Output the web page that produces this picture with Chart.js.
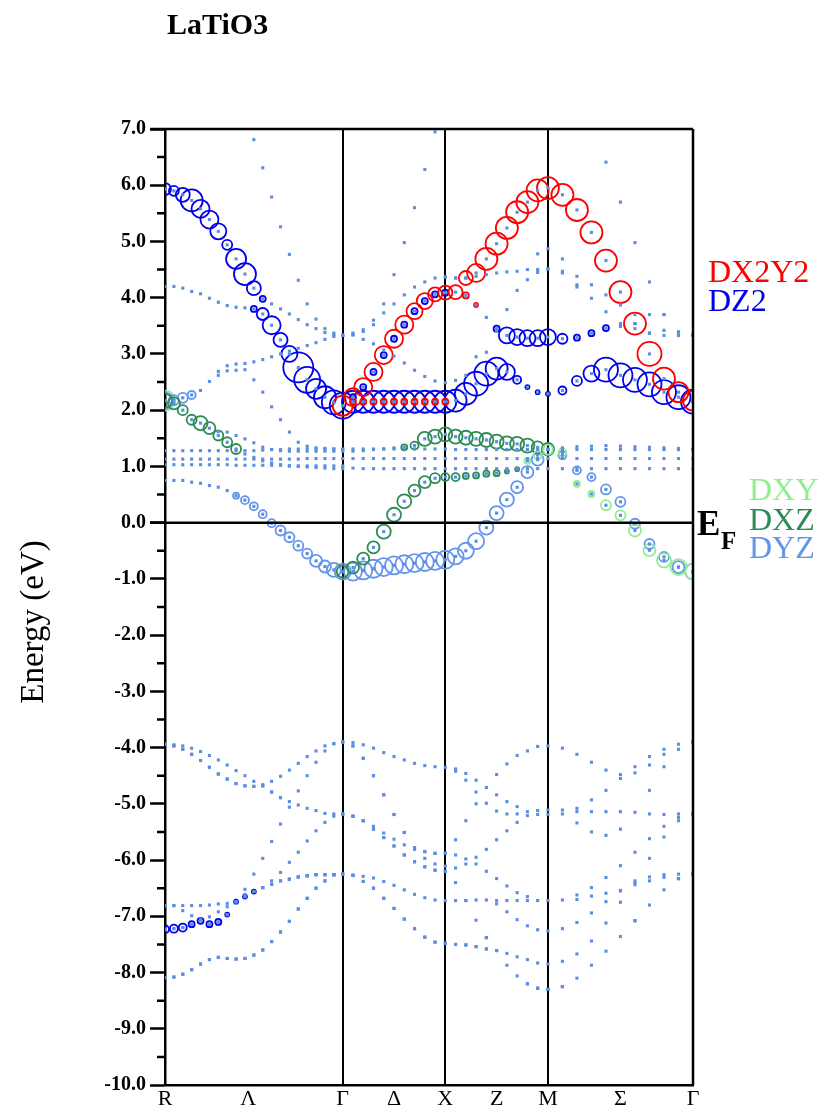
<!DOCTYPE html>
<html>
<head>
<meta charset="utf-8">
<script src="https://cdn.jsdelivr.net/npm/chart.js@4.4.0/dist/chart.umd.min.js"></script>
<style>body{margin:0;background:#fff}</style>
</head>
<body>
<canvas id="bands" width="819" height="1113"></canvas>
<script>
// k-path: R - Gamma - X - M - Gamma, points per segment
var kSegPts = [20, 10, 10, 10];
var kSegLen = [1.732, 1.0, 1.0, 1.414];
var kLabels = ['R', 'Λ', 'Γ', 'Δ', 'X', 'Z', 'M', 'Σ', 'Γ'];
var kLabelPos = [0, 0.81, 1.732, 2.232, 2.732, 3.232, 3.732, 4.439, 5.146];
var kLines = [1.732, 2.732, 3.732];

// O 2p bands (eV), 51 k-points
var o1 = [-3.94,-3.95,-3.97,-4.01,-4.07,-4.14,-4.22,-4.31,-4.41,-4.50,-4.60,-4.66,-4.60,-4.51,-4.40,-4.28,-4.16,-4.06,-3.97,-3.93,-3.90,-3.91,-3.95,-4.01,-4.09,-4.16,-4.22,-4.28,-4.32,-4.34,-4.35,-4.38,-4.46,-4.58,-4.71,-4.48,-4.29,-4.14,-4.06,-3.98,-3.97,-4.01,-4.12,-4.26,-4.40,-4.48,-4.34,-4.16,-4.03,-3.94,-3.90];
var o2 = [-3.94,-3.97,-4.03,-4.12,-4.23,-4.35,-4.47,-4.56,-4.64,-4.68,-4.69,-4.68,-4.79,-4.89,-4.96,-4.77,-4.50,-4.26,-4.06,-3.93,-3.90,-3.97,-4.19,-4.50,-4.84,-5.19,-5.51,-5.78,-5.85,-5.88,-5.88,-4.42,-4.58,-4.79,-4.99,-4.84,-4.96,-5.05,-5.14,-5.12,-5.11,-5.11,-5.08,-4.93,-4.76,-4.55,-4.45,-4.31,-4.12,-4.03,-3.90];
var o3 = [-3.94,-3.97,-4.03,-4.12,-4.23,-4.35,-4.47,-4.56,-4.64,-4.68,-4.69,-4.68,-4.79,-4.89,-5.06,-5.02,-5.08,-5.12,-5.17,-5.18,-3.90,-3.97,-4.19,-4.50,-4.84,-5.19,-5.51,-5.78,-5.85,-5.88,-5.88,-5.64,-5.30,-5.00,-5.81,-5.13,-5.18,-5.18,-5.21,-5.19,-5.19,-5.18,-5.14,-5.14,-5.14,-5.14,-5.15,-4.76,-4.34,-5.18,-3.90];
var o4 = [-6.81,-6.81,-6.81,-6.81,-6.81,-6.80,-6.78,-6.77,-6.74,-6.52,-6.25,-5.97,-5.67,-5.36,-6.04,-5.86,-5.66,-5.48,-5.33,-5.22,-5.18,-5.22,-5.30,-5.40,-5.52,-5.63,-5.73,-5.81,-5.97,-6.07,-6.11,-5.91,-5.98,-5.95,-6.20,-5.64,-5.48,-5.33,-6.65,-6.72,-6.72,-6.71,-5.34,-5.50,-5.56,-5.45,-5.86,-5.18,-5.19,-5.24,-5.18];
var o5 = [-6.81,-6.81,-6.90,-6.99,-7.05,-7.01,-6.92,-6.83,-6.74,-6.61,-6.56,-6.49,-6.37,-6.22,-6.34,-6.30,-6.28,-6.26,-6.26,-6.26,-5.18,-5.22,-5.30,-5.45,-5.60,-5.75,-5.91,-6.03,-6.12,-6.18,-6.20,-6.14,-6.07,-6.07,-6.71,-6.33,-6.46,-6.58,-6.72,-7.24,-7.26,-7.22,-6.62,-6.49,-6.31,-6.10,-6.37,-5.62,-5.40,-5.30,-5.18];
var o6 = [-6.81,-7.22,-7.20,-7.14,-7.08,-7.14,-7.10,-6.97,-6.74,-6.65,-6.56,-6.49,-6.43,-6.37,-6.34,-6.30,-6.28,-6.26,-6.26,-6.26,-5.18,-5.22,-5.30,-5.45,-5.60,-5.75,-5.91,-6.03,-6.12,-6.18,-6.20,-6.40,-6.72,-6.71,-7.38,-6.72,-6.72,-6.72,-7.17,-7.83,-7.85,-7.80,-6.70,-6.64,-6.59,-6.54,-6.40,-5.97,-5.59,-6.25,-5.18];
var o7 = [-7.23,-7.22,-7.20,-7.14,-7.08,-7.14,-7.10,-6.97,-6.74,-6.65,-6.56,-6.49,-6.43,-6.37,-6.34,-6.30,-6.28,-6.26,-6.26,-6.26,-6.25,-6.27,-6.29,-6.32,-6.38,-6.45,-6.53,-6.61,-6.67,-6.71,-6.72,-6.72,-6.72,-7.07,-7.38,-6.78,-6.92,-7.06,-7.77,-8.28,-8.30,-8.25,-7.11,-6.94,-6.74,-6.55,-6.44,-6.30,-6.26,-6.33,-6.25];
var o8 = [-7.23,-8.08,-8.03,-7.95,-7.85,-7.77,-7.73,-7.75,-7.76,-7.75,-7.69,-7.60,-7.45,-7.28,-7.09,-6.87,-6.68,-6.50,-6.37,-6.26,-6.25,-6.27,-6.38,-6.50,-6.68,-6.86,-7.05,-7.22,-7.37,-7.46,-7.48,-7.50,-7.51,-7.54,-7.58,-7.61,-7.66,-7.72,-8.20,-8.28,-8.30,-8.25,-7.67,-7.44,-7.12,-6.75,-7.08,-6.37,-6.31,-6.33,-6.25];
var o9 = [-8.09,-8.08,-8.03,-7.95,-7.85,-7.77,-7.73,-7.75,-7.76,-7.75,-7.69,-7.60,-7.45,-7.28,-7.09,-6.87,-6.68,-6.50,-6.37,-6.26,-6.25,-6.27,-6.38,-6.50,-6.68,-6.86,-7.05,-7.22,-7.37,-7.46,-7.48,-7.50,-7.51,-7.54,-7.58,-7.61,-7.87,-8.06,-8.20,-8.28,-8.30,-8.25,-8.10,-7.87,-7.62,-7.36,-7.08,-6.80,-6.53,-6.33,-6.25];

// Ti d / La d bands above the O 2p block
var n = null;
var egUp = [5.93,5.90,5.83,5.73,5.58,5.39,5.18,4.94,4.69,4.42,4.17,3.98,3.89,3.80,3.71,3.61,3.52,3.45,3.38,3.34,3.33,3.37,3.43,3.52,3.73,3.89,4.05,4.19,4.28,4.35,4.37,4.35,4.35,4.44,4.69,4.96,5.24,5.52,5.70,5.91,5.95,5.83,5.56,5.16,4.66,4.10,3.54,3.00,2.56,2.32,2.17];
var egLow = [4.20,4.20,4.17,4.11,4.07,3.99,3.92,3.86,3.83,3.82,3.80,3.71,3.51,3.25,3.00,2.76,2.54,2.38,2.23,2.14,2.08,2.15,2.15,2.15,2.15,2.15,2.15,2.15,2.15,2.15,2.15,2.17,2.29,2.47,2.65,2.74,2.68,2.54,2.41,2.32,2.29,2.35,2.52,2.65,2.72,2.62,2.54,2.46,2.32,2.23,2.15];
var egMid = [n,n,n,n,n,n,n,n,n,n,n,n,n,n,n,n,n,n,n,n,2.08,2.23,2.41,2.68,2.98,3.27,3.52,3.76,3.94,4.06,4.09,4.10,4.04,3.87,3.65,3.45,3.33,3.30,3.28,3.28,3.30,3.27,3.29,3.37,3.46,3.49,3.45,3.37,3.33,3.33,3.33];
var steep = [n,n,n,n,n,n,n,n,n,n,6.81,6.31,5.79,5.26,4.77,4.31,3.89,3.62,3.45,3.37,3.33,3.34,3.40,3.60,3.89,4.41,4.98,5.60,6.28,6.95,n,n,n,n,n,n,n,n,n,n,n,n,n,n,6.41,5.70,4.98,4.28,3.70,3.39,3.33];
var bandD = [n,n,n,n,n,n,n,n,n,n,n,n,n,n,n,n,n,n,n,n,3.33,3.34,3.26,3.18,3.07,2.96,2.84,2.71,2.60,2.52,2.49,2.53,2.62,2.95,3.03,3.40,3.79,4.13,4.32,4.45,4.51,4.44,4.19,n,n,n,n,n,n,n,n];
var bandXM = [n,n,n,n,n,n,n,n,n,n,n,n,n,n,n,n,n,n,n,n,n,n,n,n,n,n,n,n,n,n,4.37,4.35,4.35,4.38,4.41,4.44,4.46,4.47,4.50,4.50,4.51,4.47,4.23,3.99,3.75,3.54,3.54,3.37,3.42,3.33,3.33];
var bandMG = [n,n,n,n,n,n,n,n,n,n,n,n,n,n,n,n,n,n,n,n,n,n,n,n,n,n,n,n,n,n,n,n,n,n,n,n,n,n,n,4.78,4.87,4.69,4.38,4.23,4.05,3.87,3.70,3.70,3.70,3.39,3.33];
var laRise = [2.17,2.18,2.22,2.27,2.35,2.51,2.69,2.79,2.82,2.83,2.86,2.90,2.95,3.00,3.05,3.10,3.15,3.20,3.26,3.31,3.33,n,n,n,n,n,n,n,n,n,n,n,n,n,n,n,n,n,n,n,n,n,n,n,n,n,n,n,n,n,n];
var laFall = [n,n,n,n,n,n,2.62,2.70,2.71,2.72,2.54,2.32,2.06,1.83,1.61,1.43,1.36,1.33,1.32,1.31,1.30,n,n,n,n,n,n,n,n,n,n,n,n,n,n,n,n,n,n,n,n,n,n,n,n,n,n,n,n,n,n];
// t2g bands
var t2gA = [2.17,2.12,2.00,1.83,1.77,1.68,1.55,1.43,1.31,1.22,1.16,1.10,1.06,1.03,1.01,1.00,0.99,0.98,0.97,0.96,0.96,n,n,n,n,n,n,n,n,n,n,n,n,n,n,n,n,n,n,n,n,n,n,n,n,n,n,n,n,n,n];
var t2gB = [0.75,0.75,0.75,0.72,0.70,0.66,0.63,0.57,0.48,0.40,0.29,0.15,-0.01,-0.14,-0.26,-0.41,-0.55,-0.68,-0.78,-0.84,-0.87,-0.87,-0.85,-0.82,-0.79,-0.76,-0.74,-0.72,-0.70,-0.68,-0.66,-0.60,-0.50,-0.33,-0.09,0.17,0.41,0.63,0.90,1.12,1.30,1.20,0.93,0.81,0.59,0.37,-0.02,-0.38,-0.61,-0.79,-0.87];
var t2gC = [n,n,n,n,n,n,1.62,1.61,1.55,1.49,1.42,1.34,1.30,1.28,1.27,1.27,1.27,1.27,1.27,1.27,-0.87,-0.80,-0.64,-0.44,-0.16,0.14,0.38,0.57,0.72,0.79,0.81,0.81,0.83,0.84,0.87,0.88,0.91,0.95,1.10,1.20,1.30,1.25,0.69,0.51,0.31,0.13,-0.14,-0.49,-0.67,-0.79,-0.87];
var t2gD = [n,n,n,n,n,n,n,n,n,n,n,n,n,n,n,n,n,n,n,n,1.27,1.27,1.28,1.30,1.31,1.33,1.34,1.37,1.49,1.53,1.57,1.53,1.51,1.49,1.47,1.44,1.41,1.40,1.37,1.34,1.31,1.33,1.35,1.36,1.37,1.36,1.35,1.34,1.33,1.32,1.30];
// La 4f flat rows
var f1 = [1.28,1.28,1.28,1.28,1.28,1.28,1.28,1.28,1.28,1.28,1.28,1.29,1.30,1.30,1.31,1.31,1.31,1.31,1.31,1.31,1.31,1.31,1.31,1.31,1.31,1.31,1.31,1.31,1.31,1.31,1.31,1.30,1.30,1.30,1.30,1.30,1.30,1.30,1.30,1.30,1.30,1.30,1.30,1.30,1.30,1.30,1.30,1.30,1.30,1.30,1.30];
var f2 = [1.13,1.13,1.13,1.13,1.13,1.13,1.13,1.13,1.13,1.13,1.13,1.13,1.13,1.13,1.13,1.13,1.14,1.14,1.14,1.14,1.14,1.14,1.14,1.14,1.14,1.14,1.14,1.14,1.14,1.14,1.14,1.14,1.14,1.14,1.14,1.14,1.14,1.14,1.14,1.14,1.14,1.14,1.14,1.14,1.14,1.14,1.14,1.14,1.14,1.14,1.14];
var f3 = [1.03,1.03,1.03,1.03,1.03,1.03,1.03,1.03,1.02,1.02,1.02,1.02,1.02,1.02,1.01,1.01,1.01,1.01,1.01,1.01,1.01,0.97,0.96,0.96,0.96,0.96,0.96,0.96,0.96,0.96,0.96,0.96,0.96,0.96,0.96,0.96,0.96,0.96,0.96,0.96,0.96,0.96,0.96,0.96,0.96,0.96,0.96,0.96,0.96,0.96,0.96];

// orbital weights drawn as circle radius (px), 0 = none
var dz2UpW  = [6,5,7,11,9,9,8,5,10,11,7,3,0,0,0,0,0,0,0,0,0];
var dz2LowW = [0,0,0,0,0,0,0,0,0,0,3,6,9,7,8,15,13,10,11,12,13,11,11,11,11,11,11,11,11,11,11,11,11,12,12,11,8,4,2,2,2,4,5,8,12,12,12,12,12,12,12];
var dz2MidW = [0,0,0,0,0,0,0,0,0,0,0,0,0,0,0,0,0,0,0,0,0,3,3,3,3,3,3,3,3,3,3,0,0,0,0,3,8,8,8,8,8,5,3,3,3,0,0,0,0,0,0];
var dz2DeepW = [4,4,4,3,3,3,3,2,2,2,2];
var dx2UpW  = [0,0,0,0,0,0,0,0,0,0,0,0,0,0,0,0,0,0,0,0,0,0,0,0,0,0,0,0,0,0,0,0,7,9,11,11,11,11,11,11,11,11,11,11,11,11,11,12,11,10,10];
var dx2MidW = [0,0,0,0,0,0,0,0,0,0,0,0,0,0,0,0,0,0,0,0,10,9,9,9,9,9,9,8,8,7,7,7,3,2,0,0,0,0,0,0,0,0,0,0,0,0,0,0,0,0,0];
var dx2LowW = [0,0,0,0,0,0,0,0,0,0,0,0,0,0,0,0,0,0,0,0,0,3,3,3,3,3,3,3,3,3,3,0,0,0,0,0,0,0,0,0,0,0,0,0,0,0,0,0,0,0,0];
var dyzBW   = [0,0,0,0,0,0,0,0,3,4,4,4,4,5,5,5,5,6,6,7,8,9,9,9,9,9,9,9,9,9,9,8,8,8,7,7,7,6,6,6,6,4,4,4,5,5,5,5,5,6,8];
var dxzCW   = [0,0,0,0,0,0,0,0,0,0,0,0,0,0,0,0,0,0,0,0,6,6,6,6,7,7,7,6,6,5,4,4,3,3,3,3,2,2,0,0,0,0,0,0,0,0,0,0,0,0,0];
var dxzDW   = [0,0,0,0,0,0,0,0,0,0,0,0,0,0,0,0,0,0,0,0,0,0,0,0,0,0,3,4,7,7,7,7,7,7,7,7,7,7,7,6,6,0,0,0,0,0,0,0,0,0,0];
var dxyCW   = [0,0,0,0,0,0,0,0,0,0,0,0,0,0,0,0,0,0,0,0,0,0,0,0,0,0,0,0,0,0,0,0,0,0,0,0,0,0,3,4,5,4,3,3,5,5,6,6,7,8,8];
var dxzAW   = [7,6,5,5,7,6,5,5,5,0,0,0,0,0,0,0,0,0,0,0,0];
var dyzRiseW = [8,5,5,4,0];
var dxyRiseW = [10,0,0,0,0];

var dotBands = [o1,o2,o3,o4,o5,o6,o7,o8,o9,egUp,egLow,egMid,steep,bandD,bandXM,bandMG,laRise,laFall,t2gA,t2gB,t2gC,t2gD,f1,f2,f3];

// k distance of every point along the path
var kx = [0];
kSegPts.forEach(function (m, s) {
    var start = kx[kx.length - 1];
    for (var j = 1; j <= m; j++) kx.push(start + kSegLen[s] * j / m);
});

function fat(band, w) {
    var pts = [];
    w.forEach(function (r, i) {
        if (r > 0 && band[i] !== null) pts.push({x: kx[i], y: band[i], r: r});
    });
    return pts;
}
function circles(pts, color, order) {
    return {
        data: pts, order: order, clip: 0,
        pointRadius: function (c) { return c.raw ? c.raw.r : 0; },
        pointBackgroundColor: 'rgba(0,0,0,0)',
        pointBorderColor: color, pointBorderWidth: 1.8,
        showLine: false
    };
}

var dotPts = [];
dotBands.forEach(function (b) {
    b.forEach(function (e, i) { if (e !== null) dotPts.push({x: kx[i], y: e}); });
});

var colDX2 = '#ff0000', colDZ2 = '#0000ee', colDXY = '#90ee90', colDXZ = '#2e8b57', colDYZ = '#6495ed';
var egDeep = o7;

var extras = {
    id: 'extras',
    afterDraw: function (chart) {
        var c = chart.ctx, a = chart.chartArea, ys = chart.scales.y;
        c.save();
        c.strokeStyle = '#000';
        c.lineWidth = 2.5;
        c.beginPath();
        c.moveTo(a.left - 15, a.top); c.lineTo(a.right, a.top);
        c.moveTo(a.right, a.top); c.lineTo(a.right, a.bottom);
        var y0 = ys.getPixelForValue(0);
        c.moveTo(a.left - 15, y0); c.lineTo(a.right, y0);
        for (var v = -9.5; v < 7; v += 1) {
            var yy = ys.getPixelForValue(v);
            c.moveTo(a.left - 8, yy); c.lineTo(a.left, yy);
        }
        c.stroke();
        c.fillStyle = '#000';
        c.font = 'bold 30px "Liberation Serif"';
        c.textBaseline = 'alphabetic';
        c.fillText('LaTiO3', 167, 34);
        c.font = 'bold 35px "Liberation Serif"';
        c.fillText('E', a.right + 4, y0 + 12);
        c.font = 'bold 25px "Liberation Serif"';
        c.fillText('F', a.right + 28, y0 + 26);
        c.font = '32px "Liberation Serif"';
        c.fillStyle = colDX2; c.fillText('DX2Y2', 708, 282);
        c.fillStyle = colDZ2; c.fillText('DZ2', 708, 311);
        c.fillStyle = colDXY; c.fillText('DXY', 749, 500);
        c.fillStyle = colDXZ; c.fillText('DXZ', 749, 530);
        c.fillStyle = colDYZ; c.fillText('DYZ', 749, 558);
        c.fillStyle = '#000';
        c.font = '33px "Liberation Serif"';
        c.translate(43, 622);
        c.rotate(-Math.PI / 2);
        c.textAlign = 'center';
        c.fillText('Energy (eV)', 0, 0);
        c.restore();
    }
};

new Chart(document.getElementById('bands'), {
    type: 'scatter',
    data: {
        datasets: [
            circles(fat(egUp, dz2UpW), colDZ2, 5),
            circles(fat(egLow, dz2LowW), colDZ2, 5),
            circles(fat(egMid, dz2MidW), colDZ2, 5),
            circles(fat(egDeep, dz2DeepW), colDZ2, 5),
            circles(fat(egUp, dx2UpW), colDX2, 4),
            circles(fat(egMid, dx2MidW), colDX2, 4),
            circles(fat(egLow, dx2LowW), colDX2, 3),
            circles(fat(t2gB, dyzBW), colDYZ, 6),
            circles(fat(laRise, dyzRiseW), colDYZ, 6),
            circles(fat(laRise, dxyRiseW), colDXY, 7),
            circles(fat(t2gC, dxzCW), colDXZ, 4),
            circles(fat(t2gD, dxzDW), colDXZ, 4),
            circles(fat(t2gC, dxyCW), colDXY, 3),
            circles(fat(t2gA, dxzAW), colDXZ, 4),
            {
                data: dotPts, order: 0, clip: 0,
                pointRadius: 2.2, pointStyle: 'rect',
                pointBackgroundColor: '#5b8fdf', pointBorderWidth: 0,
                showLine: false
            }
        ]
    },
    options: {
        responsive: false,
        animation: false,
        devicePixelRatio: 1,
        layout: {padding: {left: 0, right: 126, top: 129, bottom: 0}},
        plugins: {legend: {display: false}, tooltip: {enabled: false}},
        scales: {
            x: {
                type: 'linear', min: 0, max: 5.146,
                afterBuildTicks: function (ax) { ax.ticks = kLabelPos.map(function (v) { return {value: v}; }); },
                afterFit: function (ax) { ax.height = 28; },
                ticks: {
                    autoSkip: false, maxRotation: 0, padding: 1, color: '#000',
                    font: {family: 'Liberation Serif', size: 22},
                    callback: function (v, i) { return kLabels[i]; }
                },
                grid: {
                    drawTicks: false,
                    lineWidth: 2,
                    color: function (c) { return c.tick && kLines.indexOf(c.tick.value) >= 0 ? '#000' : 'rgba(0,0,0,0)'; }
                },
                border: {display: true, color: '#000', width: 2.5}
            },
            y: {
                min: -10, max: 7,
                afterFit: function (ax) { ax.width = 165; },
                ticks: {
                    stepSize: 1, padding: 4, color: '#000',
                    font: {family: 'Liberation Serif', size: 20, weight: 'bold'},
                    callback: function (v) { return v.toFixed(1); }
                },
                grid: {drawOnChartArea: false, tickLength: 15, tickColor: '#000', tickWidth: 2.5},
                border: {display: true, color: '#000', width: 2.5}
            }
        }
    },
    plugins: [extras]
});
</script>
</body>
</html>
